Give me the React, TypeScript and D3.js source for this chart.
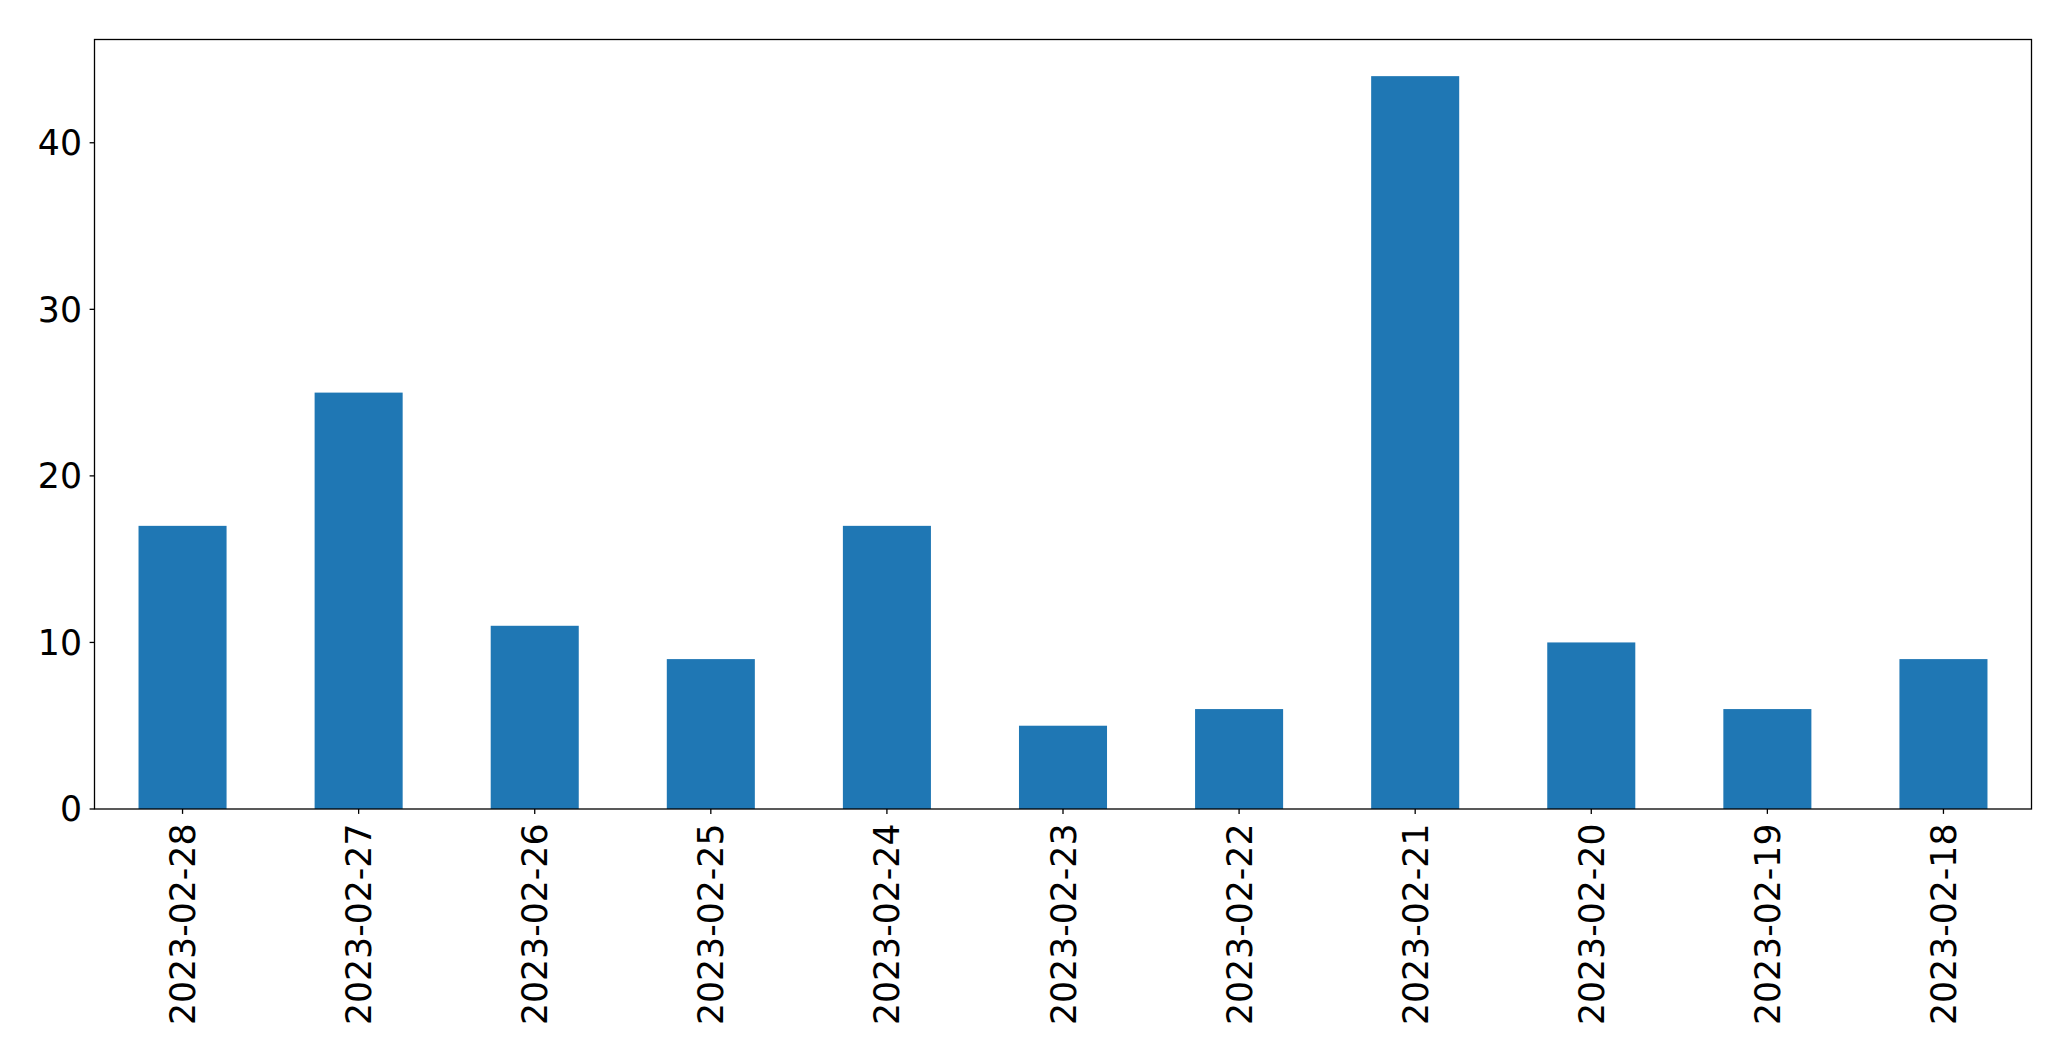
import React from "react";
import * as d3 from "d3";

const categories = ["2023-02-28","2023-02-27","2023-02-26","2023-02-25","2023-02-24","2023-02-23","2023-02-22","2023-02-21","2023-02-20","2023-02-19","2023-02-18"];
const values = [17, 25, 11, 9, 17, 5, 6, 44, 10, 6, 9];
const yTicks = [0, 10, 20, 30, 40];

const W = 2071, H = 1061;
const left = 94.5, right = 2031.5, top = 39.5, bottom = 809;
const fs = 34.7;

export default function App() {
  const x = d3.scaleLinear().domain([-0.5, categories.length - 0.5]).range([left, right]);
  const y = d3.scaleLinear().domain([0, d3.max(values)! * 1.05]).range([bottom, top]);
  const bw = x(0.25) - x(-0.25);
  return (
    <svg width={W} height={H} style={{ position: "absolute", left: 0, top: 0, background: "#fff" }}
      fontFamily="DejaVu Sans" >
      <rect x={0} y={0} width={W} height={H} fill="#fff" />
      {values.map((v, i) => (
        <rect key={i} x={x(i) - bw / 2} y={y(v)} width={bw} height={y(0) - y(v)} fill="#1f77b4" />
      ))}
      <rect x={left} y={top} width={right - left} height={bottom - top} fill="none" stroke="#000" strokeWidth={1.3} />
      {yTicks.map((t) => (
        <g key={t}>
          <line x1={left - 4.9} x2={left} y1={y(t)} y2={y(t)} stroke="#000" strokeWidth={1.3} />
          <text x={left - 12.5} y={y(t)} dy="0.36em" textAnchor="end" fontSize={fs} fill="#000">{t}</text>
        </g>
      ))}
      {categories.map((c, i) => (
        <g key={c}>
          <line x1={x(i)} x2={x(i)} y1={bottom} y2={bottom + 4.9} stroke="#000" strokeWidth={1.3} />
          <text transform={`translate(${x(i)},${bottom + 14.5}) rotate(-90)`} dy="0.36em" textAnchor="end" fontSize={fs} fill="#000">{c}</text>
        </g>
      ))}
    </svg>
  );
}
